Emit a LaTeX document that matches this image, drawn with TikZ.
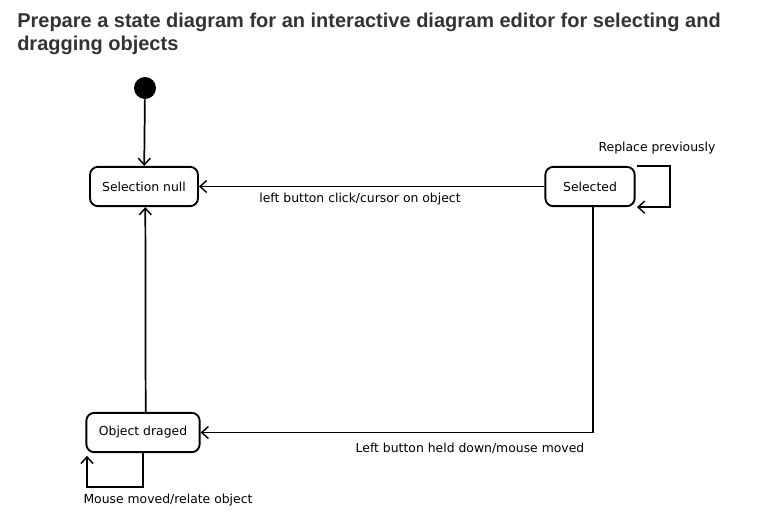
\documentclass[tikz,border=0pt]{standalone}
\usepackage{fontspec}
\setmainfont{DejaVu Sans}
\newfontfamily\titlefont{Liberation Sans}
\usetikzlibrary{arrows.meta}
\definecolor{titlegray}{HTML}{333333}
\begin{document}
\begin{tikzpicture}[x=0.75pt,y=-0.75pt,
            state/.style = {draw, line width=1.4pt, rounded corners=6pt, minimum height=29.5pt, inner xsep=4pt, font=\fontsize{9.3}{11}\selectfont},
            trans/.style = {draw, line width=1.3pt, -{Straight Barb[length=5pt,width=9pt,line width=1.1pt]}},
            lbl/.style = {font=\fontsize{9.3}{11}\selectfont, inner sep=1pt}]
            \useasboundingbox (0,0) rectangle (767,518);
            \node[anchor=north west, align=left, inner sep=0pt, text=titlegray, font=\titlefont\bfseries\fontsize{15}{17.3}\selectfont] (title) at (17,13) {Prepare a state diagram for an interactive diagram editor for selecting and\\dragging objects};
            \node[circle, fill, inner sep=0pt, minimum size=16.5pt] (init) at (145,88) {};
            \node[state, minimum width=81pt] (null) at (144,186.5) {Selection null};
            \node[state, minimum width=67pt] (sel) at (590,186.5) {Selected};
            \node[state, minimum width=85pt] (drag) at (143,432.5) {Object draged};
            % transitions
            \draw[trans] (init) -- (null);
            \draw[trans] (sel) -- (null);
            \node[lbl] (l1) at (360,199) {left button click/cursor on object};
            \draw[trans] ([xshift=1pt]sel.north east) -- ++(33,0) |- ([xshift=1pt]sel.south east);
            \node[lbl] (l2) at (657,148.5) {Replace previously};
            \draw[trans] ([xshift=2pt]sel.south) |- (drag);
            \node[lbl] (l3) at (470,448) {Left button held down/mouse moved};
            \draw[trans] ([xshift=2pt]drag.north) -- ([xshift=1pt]null.south);
            \draw[trans] (drag.south) -- ++(0,34) -| ([xshift=-42pt,yshift=-2pt]drag.south);
            \node[lbl] (l4) at (168,500.5) {Mouse moved/relate object};
        \end{tikzpicture}
\end{document}
